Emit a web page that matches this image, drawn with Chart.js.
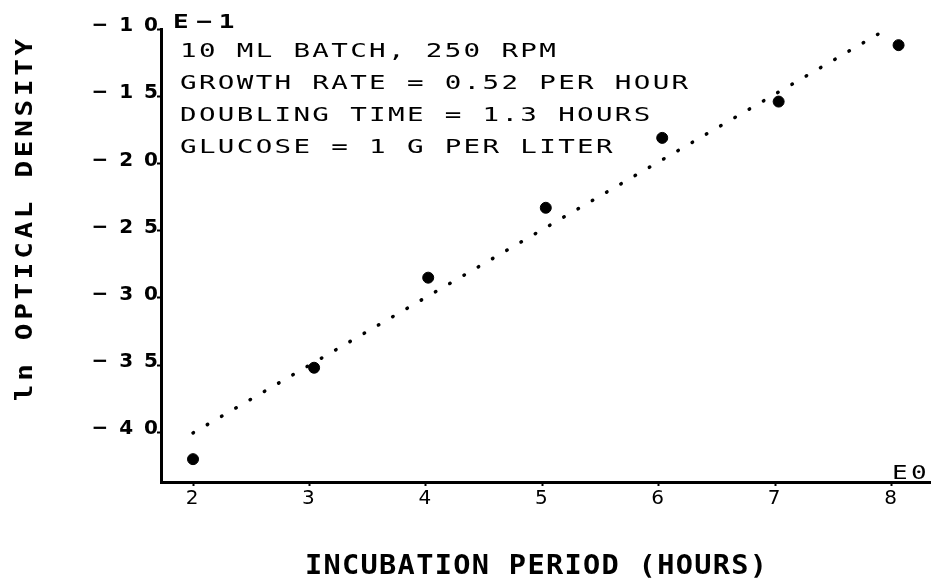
<!DOCTYPE html>
<html>
<head>
<meta charset="utf-8">
<script src="https://cdn.jsdelivr.net/npm/chart.js@4"></script>
<style>
  html, body { margin: 0; padding: 0; background: #fff; }
  #wrap { width: 939px; height: 582px; position: relative; }
</style>
</head>
<body>
<div id="wrap"><canvas id="chart"></canvas></div>
<script>
// incubation time (hours) and ln OD readings (units of E-1)
const hours = [2.0, 3.04, 4.02, 5.03, 6.03, 7.03, 8.06];
const lnOD = [-42.0, -35.2, -28.5, -23.3, -18.1, -15.4, -11.2];

// least squares line end points
const fitX = [2.0, 7.96];
const fitY = [-40.05, -10.0];

const xTicks = [2, 3, 4, 5, 6, 7, 8];
const yTicks = [-40, -35, -30, -25, -20, -15, -10];

const notes = [
    '10 ML BATCH, 250 RPM',
    'GROWTH RATE = 0.52 PER HOUR',
    'DOUBLING TIME = 1.3 HOURS',
    'GLUCOSE = 1 G PER LITER'
];
const xTitle = 'INCUBATION PERIOD (HOURS)';
const yTitle = 'ln OPTICAL DENSITY';

const TICK_LS = 11;

// draw text with letter spacing and an optional horizontal stretch
function spaced(ctx, text, x, y, font, ls, sx = 1, align = 'left') {
    ctx.save();
    ctx.font = font;
    ctx.letterSpacing = ls + 'px';
    ctx.fillStyle = '#000';
    ctx.textBaseline = 'alphabetic';
    ctx.translate(x, y);
    ctx.scale(sx, 1);
    let w = ctx.measureText(text).width - ls;
    let ox = align === 'center' ? -w / 2 : 0;
    ctx.fillText(text, ox, 0);
    ctx.restore();
}

const textPlugin = {
    id: 'texts',
    beforeDraw(c) {
        c.ctx.letterSpacing = TICK_LS + 'px';
    },
    afterDraw(c) {
        const ctx = c.ctx;
        ctx.letterSpacing = '0px';
        notes.forEach((t, i) => {
            spaced(ctx, t, 180, 57 + i * 32, '19px "DejaVu Sans Mono"', 1.6, 1.45);
        });
        spaced(ctx, 'E\u22121', 173, 28, 'bold 20px "DejaVu Sans Mono"', 5.6, 1.3);
        spaced(ctx, 'E0', 892, 479, '20px "DejaVu Sans Mono"', 2.6, 1.3);
        spaced(ctx, xTitle, 536, 574, 'bold 26px "DejaVu Sans Mono"', 1.2, 1.1, 'center');
        ctx.save();
        ctx.translate(32, 220);
        ctx.rotate(-Math.PI / 2);
        spaced(ctx, yTitle, 0, 0, 'bold 23px "DejaVu Sans Mono"', 3.1, 1.2, 'center');
        ctx.restore();
    }
};

new Chart(document.getElementById('chart'), {
    type: 'scatter',
    data: {
        datasets: [{
            label: 'data',
            data: hours.map((h, i) => ({x: h, y: lnOD[i]})),
            backgroundColor: '#000',
            borderColor: '#000',
            pointRadius: 5.5,
            pointHoverRadius: 5.5
        }, {
            label: 'fit',
            data: fitX.map((h, i) => ({x: h, y: fitY[i]})),
            showLine: true,
            pointRadius: 0,
            borderColor: '#000',
            borderWidth: 3.5,
            borderDash: [0.5, 16],
            borderCapStyle: 'round'
        }]
    },
    options: {
        responsive: true,
        maintainAspectRatio: false,
        animation: false,
        events: [],
        layout: {autoPadding: false, padding: {top: 29, right: 9, left: 0, bottom: 0}},
        plugins: {legend: {display: false}, tooltip: {enabled: false}},
        scales: {
            x: {
                type: 'linear',
                min: 1.725,
                max: 8.33,
                afterFit: s => { s.height = 100; },
                afterBuildTicks: s => { s.ticks = xTicks.map(v => ({value: v})); },
                border: {color: '#000', width: 3},
                grid: {drawOnChartArea: false, color: '#000', tickLength: 4, tickWidth: 2},
                ticks: {
                    autoSkip: false, maxRotation: 0, color: '#000', padding: 1,
                    labelOffset: TICK_LS / 2 - 1,
                    font: {family: 'DejaVu Sans', size: 20}
                }
            },
            y: {
                type: 'linear',
                min: -43.7,
                max: -10,
                afterFit: s => { s.width = 161; },
                afterBuildTicks: s => { s.ticks = yTicks.map(v => ({value: v})); },
                border: {color: '#000', width: 3},
                grid: {drawOnChartArea: false, color: '#000', tickLength: 4, tickWidth: 2},
                ticks: {
                    color: '#000', padding: -12, labelOffset: -3,
                    font: {family: 'DejaVu Sans', size: 20, weight: 'bold'},
                    callback: v => '\u2212' + Math.abs(v)
                }
            }
        }
    },
    plugins: [textPlugin]
});
</script>
</body>
</html>
